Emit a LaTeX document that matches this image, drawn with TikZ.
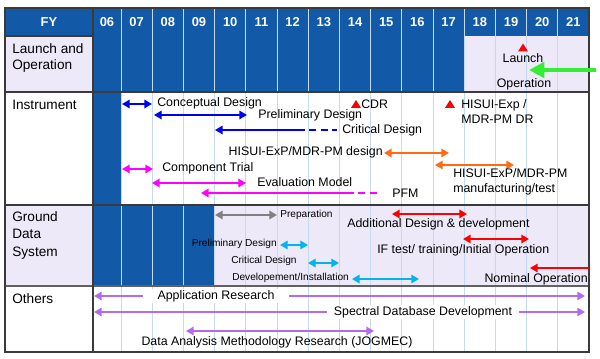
\documentclass[tikz,border=0pt]{standalone}
\usepackage{fontspec}
\setmainfont{Liberation Sans}
\usepackage{tikz}
\usetikzlibrary{arrows.meta}

\definecolor{fyblue}{HTML}{1259A8}
\definecolor{rowlav}{HTML}{EDE9F8}
\definecolor{gridblue}{HTML}{C5DAF0}
\definecolor{tblline}{HTML}{3A3A3A}
\definecolor{arrblue}{HTML}{0000F0}
\definecolor{arrmag}{HTML}{FF00FF}
\definecolor{arrorange}{HTML}{FF6A13}
\definecolor{arrred}{HTML}{FF0000}
\definecolor{arrcyan}{HTML}{00B4F0}
\definecolor{arrgray}{HTML}{808080}
\definecolor{arrpurple}{HTML}{B36BEB}
\definecolor{arrgreen}{HTML}{33EE33}

\begin{document}
\begin{tikzpicture}[x=0.025cm,y=-0.025cm,
	spanarr/.style={line width=1.7pt,{Triangle[length=5.5pt,width=6pt]}-{Triangle[length=5.5pt,width=6pt]}},
	leftarr/.style={line width=1.7pt,{Triangle[length=5.5pt,width=6pt]}-},
	lbl/.style={inner sep=0pt,font=\fontsize{8.8}{10.5}\selectfont},
	smalltxt/.style={inner sep=0pt,font=\fontsize{7.2}{8.5}\selectfont},
	hdr/.style={text=white,font=\bfseries\fontsize{9.2}{11}\selectfont},
	rowlbl/.style={inner sep=0pt,align=left,anchor=north west,font=\fontsize{9.7}{11.5}\selectfont},
	milestone/.pic={\fill[arrred] (-5,3.5) -- (5,3.5) -- (0,-4.5) -- cycle;}]
	\useasboundingbox (0,0) rectangle (600,359);
	% cell fills
	\fill[fyblue] (5,8) rectangle (589,36);
	\fill[rowlav] (5,36) rectangle (93,92);
	\fill[fyblue] (93,36) rectangle (464.2,92);
	\fill[rowlav] (464.2,36) rectangle (589,92);
	\fill[fyblue] (93,92) rectangle (121,205);
	\fill[rowlav] (5,205) rectangle (93,286);
	\fill[fyblue] (93,205) rectangle (214.6,286);
	\fill[rowlav] (214.6,205) rectangle (589,286);
	% year grid
	\foreach \k in {0,...,14}
		\draw[gridblue,line width=0.5pt] ({121+31.2*\k},8) -- ({121+31.2*\k},352);
	\draw[tblline,line width=0.8pt] (5,36) -- (93,36);
	\draw[tblline,line width=0.8pt] (5,92) -- (589,92);
	\draw[tblline,line width=0.8pt] (5,205) -- (589,205);
	\draw[tblline!80,line width=1.2pt] (5,286) -- (589,286);
	\draw[tblline,line width=0.8pt] (93,8) -- (93,352);
	\draw[tblline,line width=1pt] (5,8) rectangle (589,352);
	% header
	\node[hdr] (fy) at (49,22) {FY};
	\node[hdr] (y06) at (107,22) {06};
	\foreach \yr [count=\k from 0] in {07,08,09,10,11,12,13,14,15,16,17,18,19,20,21}
		\node[hdr] (y\yr) at ({136.6+31.2*\k},22) {\yr};
	% row labels
	\node[rowlbl] (launchlbl) at (12,43) {Launch and\\Operation};
	\node[rowlbl,anchor=west] (instlbl) at (12,105) {Instrument};
	\node[rowlbl,font=\fontsize{9.7}{12.4}\selectfont] (gdslbl) at (12,211) {Ground\\Data\\System};
	\node[rowlbl,anchor=west] (otherlbl) at (12,299) {Others};
	% launch and operation
	\pic at (523,48) {milestone};
	\node[lbl] (launch) at (523,58) {Launch};
	\node[lbl] (oper) at (524,84) {Operation};
	\draw[arrgreen,line width=3pt,-{Triangle[length=11pt,width=11pt]}] (596,70) -- (529,70);
	% instrument
	\draw[spanarr,arrblue] (122,104) -- (152,104);
	\node[lbl,anchor=west] (concept) at (157,103) {Conceptual Design};
	\draw[spanarr,arrblue] (154,115) -- (247,115);
	\node[lbl,anchor=west] (prelim) at (258,115) {Preliminary Design};
	\draw[leftarr,arrblue] (215,130) -- (298,130);
	\draw[arrblue,line width=1.7pt,dash pattern=on 5pt off 3pt] (298,130) -- (337,130);
	\node[lbl,anchor=west] (critical) at (342,130) {Critical Design};
	\pic at (356,104.5) {milestone};
	\node[lbl,anchor=west] (cdr) at (361,104) {CDR};
	\pic at (450,104.5) {milestone};
	\node[lbl,anchor=north west,align=left] (mdrpm) at (461,99) {HISUI-Exp /\\MDR-PM DR};
	\node[lbl,anchor=east] (hdesign) at (383,152) {HISUI-ExP/MDR-PM design};
	\draw[spanarr,arrorange] (384,153) -- (449,153);
	\draw[spanarr,arrorange] (435,165) -- (514,165);
	\node[lbl,anchor=north west,align=left] (hmanu) at (453,168) {HISUI-ExP/MDR-PM\\manufacturing/test};
	\draw[spanarr,arrmag] (122,169) -- (153,169);
	\node[lbl,anchor=west] (comptrial) at (162,168) {Component Trial};
	\draw[spanarr,arrmag] (152,183) -- (246,183);
	\node[lbl,anchor=west] (evalmodel) at (257,182) {Evaluation Model};
	\draw[leftarr,arrmag] (201,193) -- (347,193);
	\draw[arrmag,line width=1.7pt,dash pattern=on 5pt off 3pt] (347,193) -- (378,193);
	\node[lbl,anchor=west] (pfm) at (392,193) {PFM};
	% ground data system
	\draw[spanarr,arrgray] (215,215) -- (277,215);
	\node[smalltxt,anchor=west] (prep) at (280,215) {Preparation};
	\draw[spanarr,arrred] (392,214) -- (467,214);
	\node[lbl,anchor=west] (adddesign) at (347,224) {Additional Design \& development};
	\node[smalltxt,anchor=east] (gprelim) at (277,244) {Preliminary Design};
	\draw[spanarr,arrcyan] (280,245) -- (308,245);
	\draw[spanarr,arrred] (463,239) -- (529,239);
	\node[lbl,anchor=west] (iftest) at (377,250) {IF test/ training/Initial Operation};
	\node[smalltxt,anchor=west] (gcritical) at (231,261) {Critical Design};
	\draw[spanarr,arrcyan] (308,263) -- (339,263);
	\draw[leftarr,arrred] (530,268) -- (589,268);
	\node[smalltxt,anchor=west] (devinst) at (232,278) {Developement/Installation};
	\draw[spanarr,arrcyan] (352,279) -- (419,279);
	\node[lbl,anchor=east] (nominal) at (588,279) {Nominal Operation};
	% others
	\draw[spanarr,arrpurple] (94,296) -- (585,296);
	\node[lbl,fill=white,inner xsep=10pt,inner ysep=1pt] (appres) at (216,296) {Application Research};
	\draw[spanarr,arrpurple] (94,312) -- (585,312);
	\node[lbl,fill=white,inner xsep=5pt,inner ysep=1pt] (specdb) at (423,312) {Spectral Database Development};
	\draw[spanarr,arrpurple] (186,331) -- (374,331);
	\node[lbl] (datares) at (277,342) {Data Analysis Methodology Research (JOGMEC)};
\end{tikzpicture}
\end{document}
